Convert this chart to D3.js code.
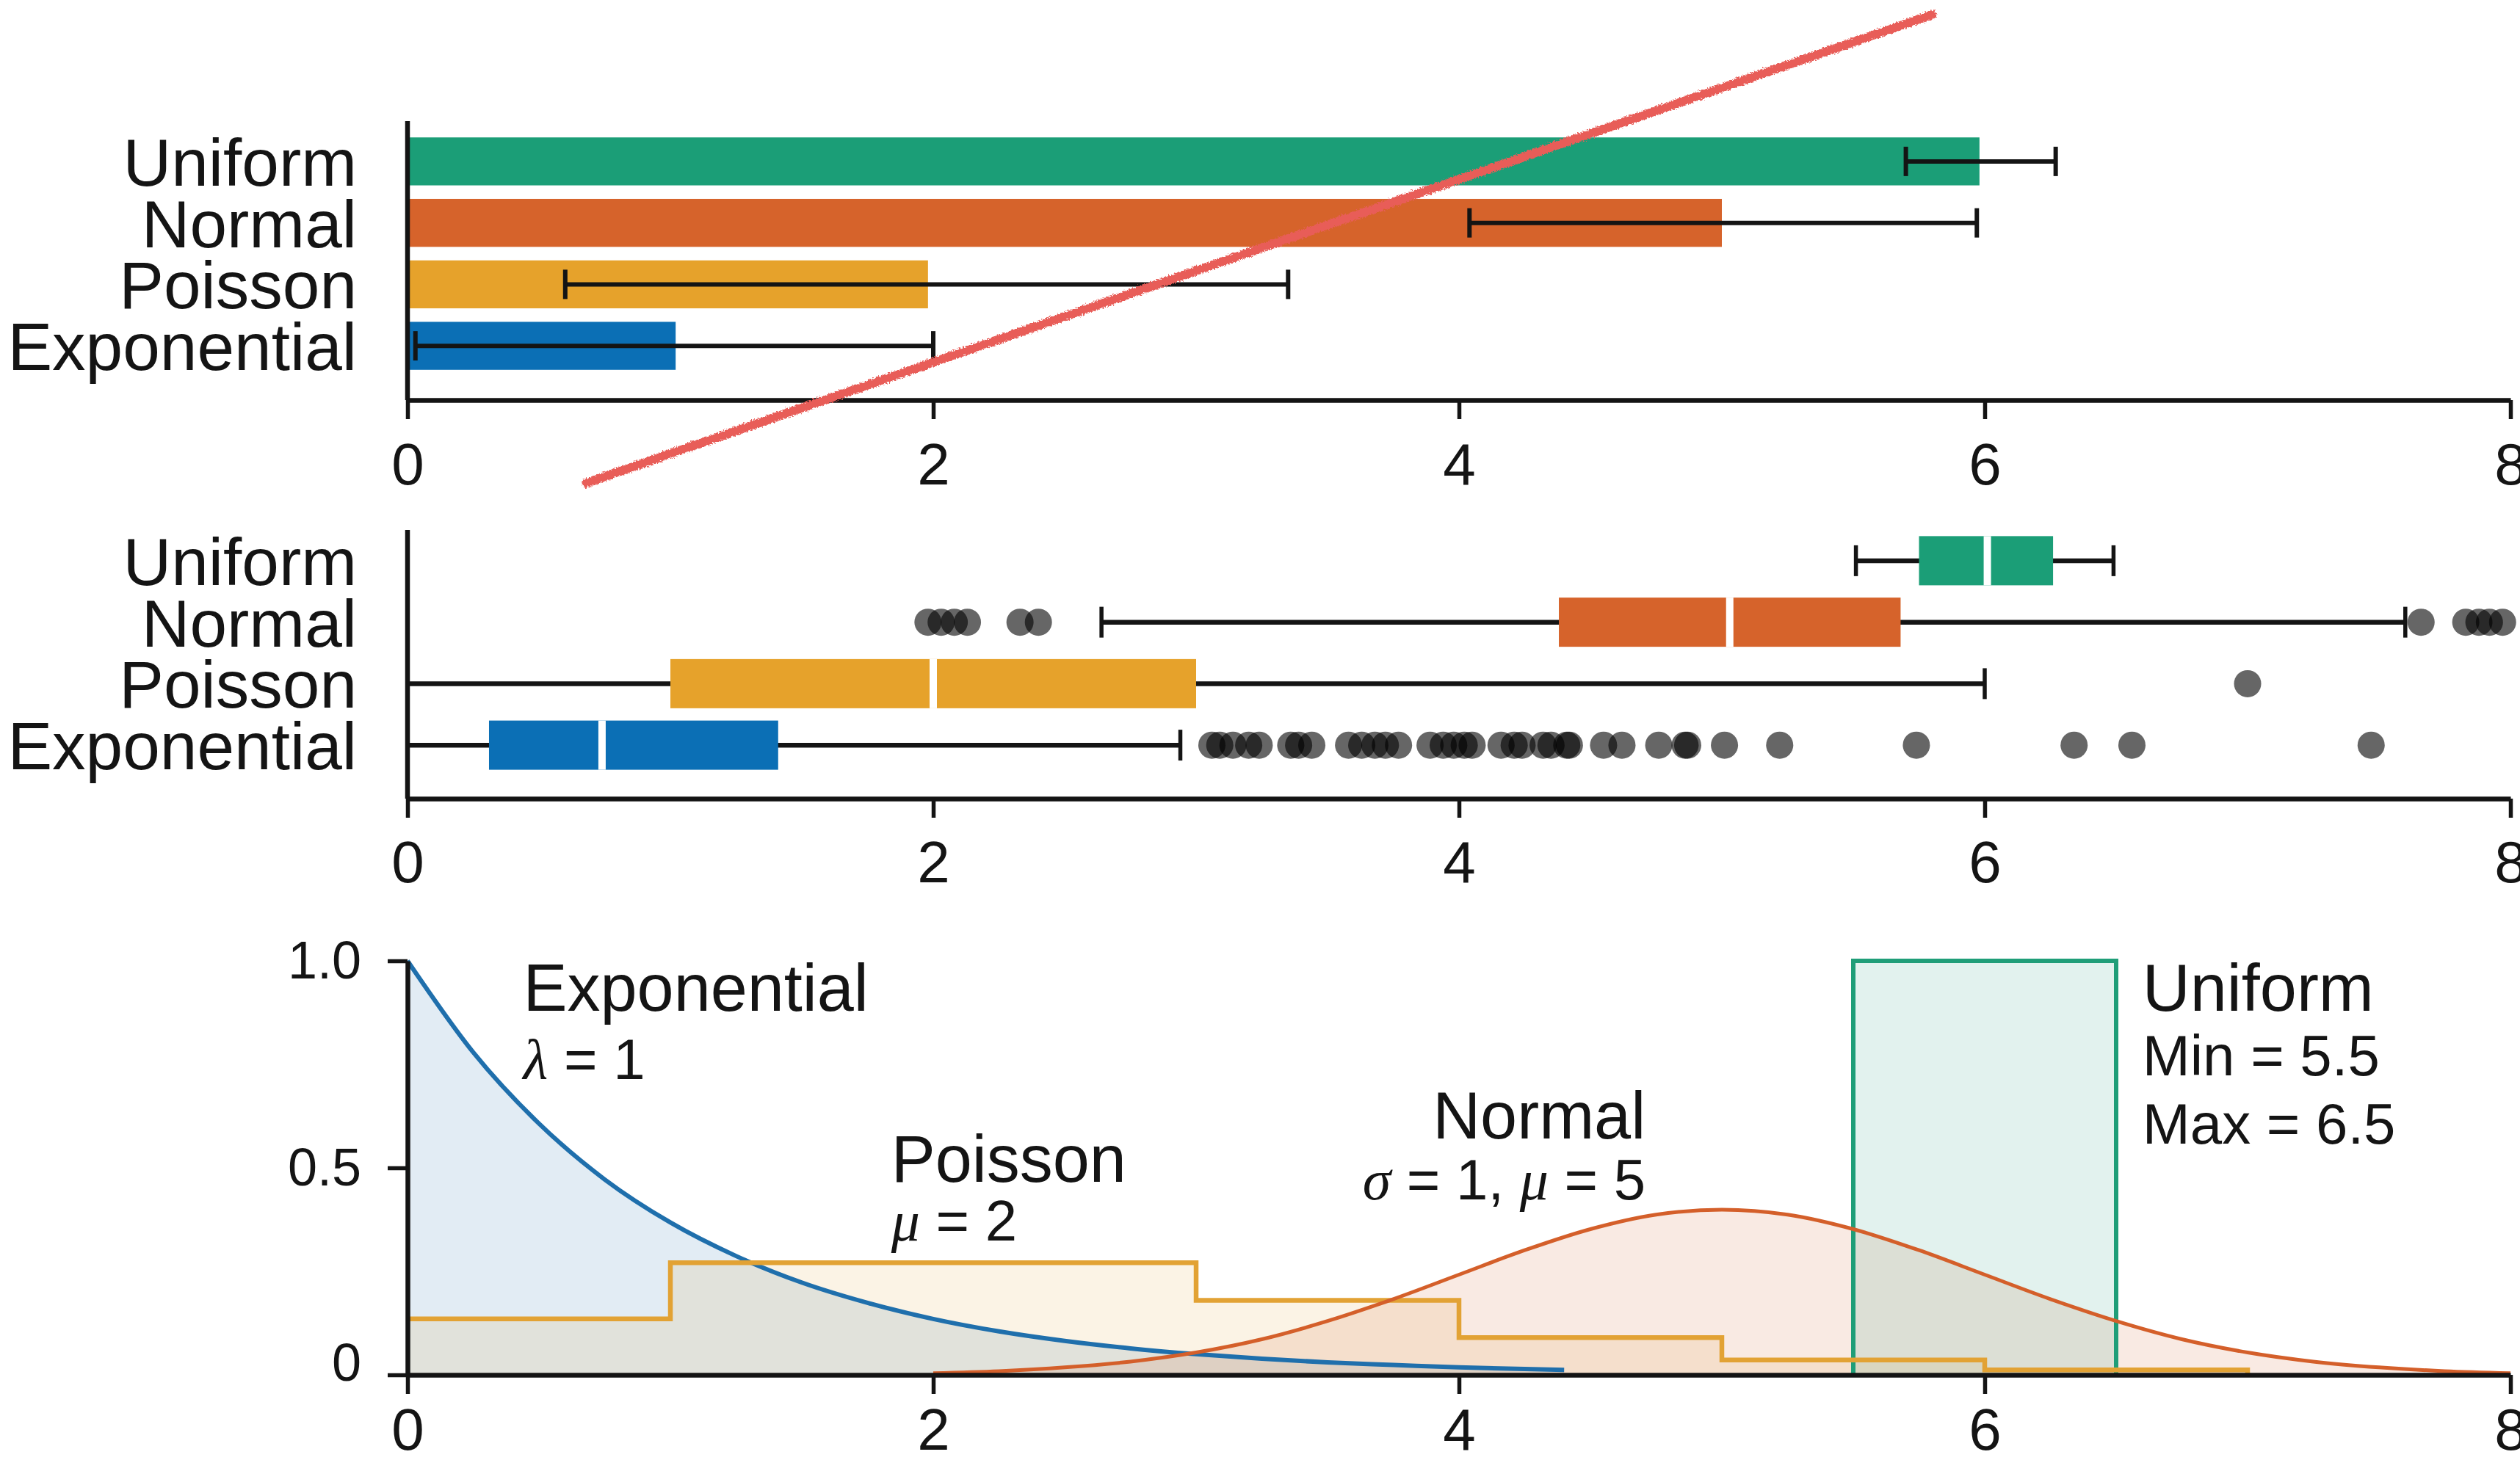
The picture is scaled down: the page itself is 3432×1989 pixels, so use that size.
<!DOCTYPE html>
<html>
<head>
<meta charset="utf-8">
<script src="https://cdn.jsdelivr.net/npm/d3@7"></script>
<style>
  html, body { margin: 0; padding: 0; background: #ffffff; }
  svg { display: block; }
</style>
</head>
<body>
<script>
// ---------- data ----------
const categories = ["Uniform", "Normal", "Poisson", "Exponential"];
const seriesColors = ["#1b9e77", "#d6632b", "#e6a22b", "#0b6fb5"];
const lineColors = ["#1f9e78", "#d45f2a", "#e2a234", "#1f6fac"];

// panel 1: mean and error bar per distribution
const barMeans = [5.98, 5.0, 1.98, 1.02];
const errLow   = [5.70, 4.04, 0.60, 0.03];
const errHigh  = [6.27, 5.97, 3.35, 2.00];

// panel 2: box plot summaries
const whiskerLow  = [5.51, 2.64, 0.00, 0.00];
const quartile1   = [5.75, 4.38, 1.00, 0.31];
const medians     = [6.01, 5.03, 2.00, 0.74];
const quartile3   = [6.26, 5.68, 3.00, 1.41];
const whiskerHigh = [6.49, 7.60, 6.00, 2.94];
const outliersUniform = [];
const outliersNormal = [1.98, 2.03, 2.08, 2.13, 2.33, 2.40, 7.66, 7.83, 7.88, 7.92, 7.97];
const outliersPoisson = [7.0];
const outliersExponential = [
  3.06, 3.09, 3.14, 3.20, 3.24, 3.36, 3.39, 3.44, 3.58, 3.63, 3.68, 3.72, 3.77,
  3.89, 3.94, 3.98, 4.02, 4.05, 4.16, 4.21, 4.24, 4.32, 4.35, 4.41, 4.42,
  4.55, 4.62, 4.76, 4.86, 4.87, 5.01, 5.22, 5.74, 6.34, 6.56, 7.47
];
const outlierSets = [outliersUniform, outliersNormal, outliersPoisson, outliersExponential];

// panel 3: densities
const xTicks = [0, 2, 4, 6, 8];
const densityTicks = [0, 0.5, 1.0];

const expX = [0, 0.25, 0.5, 0.75, 1, 1.25, 1.5, 1.75, 2, 2.25, 2.5, 2.75, 3, 3.25, 3.5, 3.75, 4, 4.25, 4.4];
const expDensity = [1.000, 0.779, 0.607, 0.472, 0.368, 0.287, 0.223, 0.174, 0.135, 0.105, 0.082, 0.064, 0.050, 0.039, 0.030, 0.024, 0.018, 0.014, 0.012];

const normX = [2, 2.25, 2.5, 2.75, 3, 3.25, 3.5, 3.75, 4, 4.25, 4.5, 4.75, 5, 5.25, 5.5, 5.75, 6, 6.25, 6.5, 6.75, 7, 7.25, 7.5, 7.75, 8];
const normDensity = [0.004, 0.009, 0.018, 0.032, 0.054, 0.086, 0.130, 0.183, 0.242, 0.301, 0.352, 0.387, 0.399, 0.387, 0.352, 0.301, 0.242, 0.183, 0.130, 0.086, 0.054, 0.032, 0.018, 0.009, 0.004];

const poissonK = [0, 1, 2, 3, 4, 5, 6, 7];
const poissonP = [0.135, 0.271, 0.271, 0.180, 0.090, 0.036, 0.012, 0.003];

const uniformBounds = [5.5, 6.5];
const uniformDensity = 1.0;

const curveNames = ["Exponential", "Poisson", "Normal", "Uniform"];
const curveParams = [["λ = 1"], ["μ = 2"], ["σ = 1, μ = 5"], ["Min = 5.5", "Max = 6.5"]];

// ---------- layout ----------
const W = 3432, H = 1989;
const FONT = "'Liberation Sans', Arial, Helvetica, sans-serif";
const INK = "#141414";

const svg = d3.select("body").append("svg")
  .attr("width", W).attr("height", H)
  .attr("viewBox", `0 0 ${W} ${H}`);
svg.append("rect").attr("width", W).attr("height", H).attr("fill", "#ffffff");

const x = d3.scaleLinear().domain([0, 8]).range([555, 3419]);

function styleAxis(g, fontSize) {
  g.select(".domain").attr("stroke", INK).attr("stroke-width", 6.5);
  g.selectAll(".tick line").attr("stroke", INK).attr("stroke-width", 5.5);
  g.selectAll(".tick text").attr("fill", INK).attr("font-size", fontSize).attr("font-family", FONT);
}

function xAxis(yPos, padding) {
  const g = svg.append("g")
    .attr("transform", `translate(0,${yPos})`)
    .call(d3.axisBottom(x).tickValues(xTicks).tickSize(26).tickSizeOuter(0)
      .tickPadding(padding).tickFormat(d3.format("d")));
  styleAxis(g, 80);
  return g;
}

function categoryLabels(band) {
  svg.append("g").selectAll("text").data(categories).join("text")
    .attr("x", 486)
    .attr("y", d => band(d) + band.bandwidth() / 2 + 33)
    .attr("text-anchor", "end")
    .attr("font-family", FONT).attr("font-size", 91).attr("fill", INK)
    .text(d => d);
}

// ---------- panel 1: bars with error bars ----------
const p1 = { top: 165, axis: 545 };
const band1 = d3.scaleBand().domain(categories).range([178, 513]).paddingInner(0.22).paddingOuter(0.11);

svg.append("g").selectAll("rect").data(categories).join("rect")
  .attr("x", x(0))
  .attr("y", d => band1(d))
  .attr("width", (d, i) => x(barMeans[i]) - x(0))
  .attr("height", band1.bandwidth())
  .attr("fill", (d, i) => seriesColors[i]);

const eb = svg.append("g").attr("stroke", INK).attr("stroke-width", 6);
categories.forEach((c, i) => {
  const cy = band1(c) + band1.bandwidth() / 2;
  eb.append("line").attr("x1", x(errLow[i])).attr("x2", x(errHigh[i])).attr("y1", cy).attr("y2", cy);
  [errLow[i], errHigh[i]].forEach(v => {
    eb.append("line").attr("x1", x(v)).attr("x2", x(v)).attr("y1", cy - 20).attr("y2", cy + 20);
  });
});

svg.append("line").attr("x1", x(0)).attr("x2", x(0)).attr("y1", p1.top).attr("y2", p1.axis)
  .attr("stroke", INK).attr("stroke-width", 6.5);
xAxis(p1.axis, 32);
categoryLabels(band1);

// ---------- panel 2: box plots ----------
const p2 = { top: 722, axis: 1088 };
const band2 = d3.scaleBand().domain(categories).range([722, 1057]).paddingInner(0.2).paddingOuter(0.1);

categories.forEach((c, i) => {
  const g = svg.append("g");
  const cy = band2(c) + band2.bandwidth() / 2;
  const h = band2.bandwidth();
  g.append("line").attr("x1", x(whiskerLow[i])).attr("x2", x(whiskerHigh[i]))
    .attr("y1", cy).attr("y2", cy).attr("stroke", INK).attr("stroke-width", 6.5);
  [whiskerLow[i], whiskerHigh[i]].forEach(v => {
    g.append("line").attr("x1", x(v)).attr("x2", x(v)).attr("y1", cy - 21).attr("y2", cy + 21)
      .attr("stroke", INK).attr("stroke-width", 5.5);
  });
  g.append("rect").attr("x", x(quartile1[i])).attr("y", band2(c))
    .attr("width", x(quartile3[i]) - x(quartile1[i])).attr("height", h)
    .attr("fill", seriesColors[i]);
  g.append("line").attr("x1", x(medians[i])).attr("x2", x(medians[i]))
    .attr("y1", band2(c)).attr("y2", band2(c) + h)
    .attr("stroke", "#ffffff").attr("stroke-width", 10);
  g.selectAll("circle").data(outlierSets[i]).join("circle")
    .attr("cx", d => x(d)).attr("cy", cy).attr("r", 18.5)
    .attr("fill", "#000000").attr("fill-opacity", 0.6);
});

svg.append("line").attr("x1", x(0)).attr("x2", x(0)).attr("y1", p2.top).attr("y2", p2.axis)
  .attr("stroke", INK).attr("stroke-width", 6.5);
xAxis(p2.axis, 31);
categoryLabels(band2);

// ---------- panel 3: density curves ----------
const y = d3.scaleLinear().domain([0, 1]).range([1873, 1309]);

const expPts = expX.map((v, i) => [v, expDensity[i]]);
const normPts = normX.map((v, i) => [v, normDensity[i]]);
const poisPts = poissonK.map((v, i) => [v, poissonP[i]]);
const unifPts = [[uniformBounds[0], 0], [uniformBounds[0], uniformDensity],
                 [uniformBounds[1], uniformDensity], [uniformBounds[1], 0]];

const smoothArea = d3.area().x(d => x(d[0])).y0(y(0)).y1(d => y(d[1])).curve(d3.curveMonotoneX);
const smoothLine = d3.line().x(d => x(d[0])).y(d => y(d[1])).curve(d3.curveMonotoneX);
const stepArea = d3.area().x(d => x(d[0])).y0(y(0)).y1(d => y(d[1])).curve(d3.curveStepAfter);
const stepLine = d3.line().x(d => x(d[0])).y(d => y(d[1])).curve(d3.curveStepAfter);
const rawArea = d3.area().x(d => x(d[0])).y0(y(0)).y1(d => y(d[1])).curve(d3.curveLinear);
const rawLine = d3.line().x(d => x(d[0])).y(d => y(d[1])).curve(d3.curveLinear);

const fills = svg.append("g").attr("fill-opacity", 0.13);
fills.append("path").attr("d", smoothArea(expPts)).attr("fill", lineColors[3]);
fills.append("path").attr("d", stepArea(poisPts)).attr("fill", lineColors[2]);
fills.append("path").attr("d", smoothArea(normPts)).attr("fill", lineColors[1]);
fills.append("path").attr("d", rawArea(unifPts)).attr("fill", lineColors[0]);

const lines = svg.append("g").attr("fill", "none");
lines.append("path").attr("d", rawLine(unifPts)).attr("stroke", lineColors[0]).attr("stroke-width", 6);
lines.append("path").attr("d", smoothLine(expPts)).attr("stroke", lineColors[3]).attr("stroke-width", 6);
lines.append("path").attr("d", stepLine(poisPts)).attr("stroke", lineColors[2]).attr("stroke-width", 6.5);
lines.append("path").attr("d", smoothLine(normPts)).attr("stroke", lineColors[1]).attr("stroke-width", 5);

const yAx = svg.append("g").attr("transform", `translate(${x(0)},0)`)
  .call(d3.axisLeft(y).tickValues(densityTicks).tickSize(27).tickSizeOuter(0).tickPadding(36)
    .tickFormat(d => d === 0 ? "0" : d3.format(".1f")(d)));
styleAxis(yAx, 72);
yAx.selectAll(".tick text").filter(d => d === 0).attr("dy", "0.1em");
xAxis(y(0), 19);

// curve annotations
const greek = /[λμσ]/;
function richText(sel, str) {
  str.split(/([λμσ])/).filter(s => s.length).forEach(part => {
    const t = sel.append("tspan").text(part);
    if (greek.test(part)) {
      t.attr("font-family", "'Liberation Serif', 'DejaVu Serif', serif").attr("font-style", "italic");
    }
  });
}
const notes = [
  { x: 0.44, anchor: "start", title: 1377, sub: [1470] },
  { x: 1.84, anchor: "start", title: 1610, sub: [1690] },
  { x: 4.71, anchor: "end",   title: 1551, sub: [1634] },
  { x: 6.60, anchor: "start", title: 1377, sub: [1465, 1558] }
];
notes.forEach((n, i) => {
  const g = svg.append("g").attr("font-family", FONT).attr("fill", INK).attr("text-anchor", n.anchor);
  g.append("text").attr("x", x(n.x)).attr("y", n.title).attr("font-size", 90).text(curveNames[i]);
  curveParams[i].forEach((p, j) => {
    const t = g.append("text").attr("x", x(n.x)).attr("y", n.sub[j]).attr("font-size", 78);
    richText(t, p);
  });
});

// red pencil stroke across the top panel
const defs = svg.append("defs");
const rough = defs.append("filter").attr("id", "pencil")
  .attr("x", "-5%").attr("y", "-20%").attr("width", "110%").attr("height", "140%");
rough.append("feTurbulence").attr("type", "fractalNoise").attr("baseFrequency", 0.45)
  .attr("numOctaves", 2).attr("seed", 3).attr("result", "noise");
rough.append("feDisplacementMap").attr("in", "SourceGraphic").attr("in2", "noise")
  .attr("scale", 7).attr("xChannelSelector", "R").attr("yChannelSelector", "G");
const strokeFrom = [0.68, p1.axis + 113];
const strokeTo = [5.80, p1.top - 145];
svg.append("line")
  .attr("x1", x(strokeFrom[0])).attr("y1", strokeFrom[1])
  .attr("x2", x(strokeTo[0])).attr("y2", strokeTo[1])
  .attr("stroke", "#e85d59").attr("stroke-width", 12).attr("stroke-linecap", "round")
  .attr("filter", "url(#pencil)");
</script>
</body>
</html>
